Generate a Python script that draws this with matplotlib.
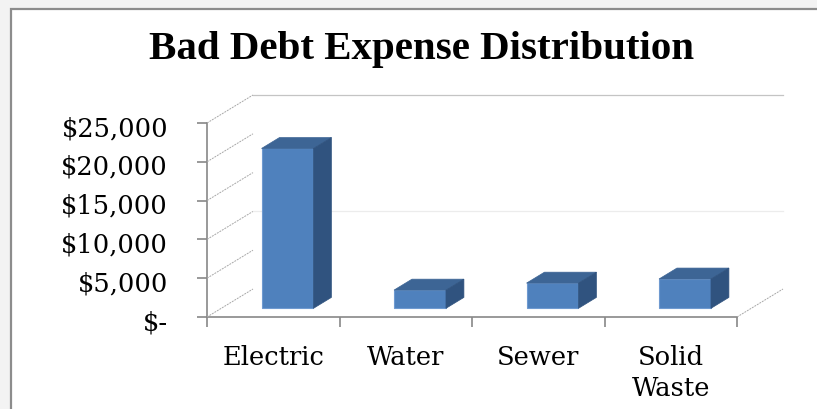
import matplotlib.pyplot as plt
from matplotlib.patches import Polygon, Rectangle
from matplotlib.ticker import FuncFormatter
from matplotlib.transforms import ScaledTranslation

# data
categories = ["Electric", "Water", "Sewer", "Solid\nWaste"]
expense = [20600, 2350, 3250, 3780]
y_ticks = [0, 5000, 10000, 15000, 20000, 25000]

W, H = 817, 409
fig = plt.figure(figsize=(W / 100, H / 100), dpi=100)
fig.patch.set_facecolor("#f3f3f3")
fig.patches.append(Rectangle((10.5 / W, -0.05), 1.2, 1.05 - 9 / H, transform=fig.transFigure,
                             facecolor="white", edgecolor="#8c8c8c", linewidth=1.6, zorder=-10))

fig.text(0.516, 1 - 50 / H, "Bad Debt Expense Distribution", ha="center", va="center",
         fontsize=29.5, fontweight="bold", family="Liberation Serif")

ax = fig.add_axes([207 / W, 1 - 317 / H, 530 / W, 194 / H])
ax.set_zorder(5)
ax.set_xlim(-0.5, len(categories) - 0.5)
ax.set_ylim(0, 25000)
ax.patch.set_visible(False)
for s in ax.spines.values():
    s.set_visible(False)

# depth of the 3d box in data units
DX, DY = 0.347, 3608
x_left, x_right = -0.5, len(categories) - 0.5
axis_col = "#888888"
grid_col = "#a8a8a8"

ax.plot([x_left, x_left], [0, 25000], color=axis_col, lw=1.2, clip_on=False)
ax.plot([x_left, x_right], [0, 0], color=axis_col, lw=1.2, clip_on=False)
for v in y_ticks:
    ax.plot([x_left, x_left + DX], [v, v + DY], color=grid_col, lw=0.7, ls=(0, (2, 1)), clip_on=False)
ax.plot([x_right, x_right + DX], [0, DY], color=grid_col, lw=0.7, ls=(0, (2, 1)), clip_on=False)
ax.plot([x_left + DX, x_right + DX], [25000 + DY] * 2, color="#c4c4c4", lw=0.9, clip_on=False)
ax.plot([x_left + DX, x_right + DX], [10000 + DY] * 2, color="#ececec", lw=0.9, clip_on=False)

# 3d columns
f0, f1 = 0.31, 0.70
bw = 0.392
bdx, bdy = (f1 - f0) * DX, (f1 - f0) * DY
front_col, top_col, side_col = "#4f81bd", "#3d6595", "#30537f"
xs = [i + f0 * DX for i in range(len(categories))]
ax.bar(xs, expense, width=bw, bottom=f0 * DY, color=front_col, edgecolor="#6f9ad0",
       linewidth=0.8, zorder=3, clip_on=False)
for x, v in zip(xs, expense):
    x0, y0 = x - bw / 2, f0 * DY
    top = [(x0, y0 + v), (x0 + bdx, y0 + v + bdy), (x0 + bw + bdx, y0 + v + bdy), (x0 + bw, y0 + v)]
    side = [(x0 + bw, y0), (x0 + bw, y0 + v), (x0 + bw + bdx, y0 + v + bdy), (x0 + bw + bdx, y0 + bdy)]
    ax.add_patch(Polygon(top, closed=True, facecolor=top_col, edgecolor=top_col, lw=0.5, zorder=3, clip_on=False))
    ax.add_patch(Polygon(side, closed=True, facecolor=side_col, edgecolor=side_col, lw=0.5, zorder=3, clip_on=False))

# axes ticks and labels
ax.set_yticks(y_ticks)
ax.yaxis.set_major_formatter(FuncFormatter(lambda v, p: "$-" if v == 0 else f"${v:,.0f}"))
ax.tick_params(axis="y", length=7, width=1.2, color=axis_col, pad=21, labelsize=18.5)
ax.set_xticks([i - 0.5 for i in range(len(categories) + 1)])
ax.set_xticklabels([])
ax.set_xticks(range(len(categories)), minor=True)
ax.set_xticklabels(categories, minor=True, linespacing=1.3)
ax.tick_params(axis="x", which="major", length=7, width=1.2, color=axis_col)
ax.tick_params(axis="x", which="minor", length=0, pad=20, labelsize=18.5)
shift = ScaledTranslation(0, -3 / 100, fig.dpi_scale_trans)
for lbl in ax.get_yticklabels():
    lbl.set_family("DejaVu Serif")
    lbl.set_transform(lbl.get_transform() + shift)
for lbl in ax.get_xticklabels(minor=True):
    lbl.set_family("DejaVu Serif")

fig.savefig("out.png", dpi=100)
